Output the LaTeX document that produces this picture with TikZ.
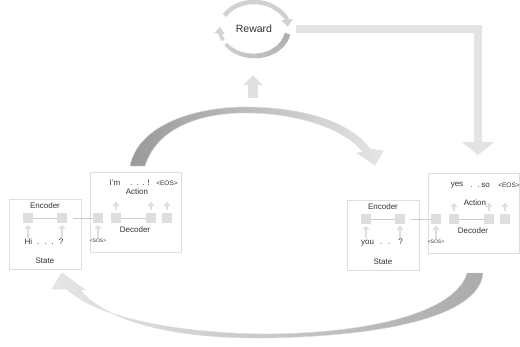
\documentclass[tikz,border=0pt]{standalone}
\usepackage{fontspec}
\setmainfont{Liberation Sans}
\usetikzlibrary{arrows.meta,shapes.geometric,calc}

\tikzset{
  statebox/.style={draw=gray!26, line width=1pt, minimum width=72pt, minimum height=70pt, inner sep=0pt},
  actbox/.style={draw=gray!26, line width=1pt, minimum width=91pt, minimum height=80pt, inner sep=0pt},
  cell/.style={fill=gray!26, minimum size=10pt, inner sep=0pt},
  lbl/.style={font=\fontsize{8}{9}\selectfont, text=black!80, inner sep=0pt},
  tok/.style={font=\fontsize{5}{6}\selectfont, text=black!80, inner sep=0pt},
  eos/.style={font=\fontsize{6.5}{7}\selectfont, text=black!80, inner sep=0pt},
  link/.style={draw=gray!40, line width=0.8pt},
  uparrow/.style={draw=gray!26, line width=2.5pt, -{Triangle[width=7pt,length=4pt]}},
}

\begin{document}
\begin{tikzpicture}[x=1pt,y=-1pt]
	\path[use as bounding box, fill=white] (0,0) rectangle (520,346);

	% reward loop
	\coordinate (rc) at (254,29);
	\node[ellipse, minimum width=68pt, minimum height=54pt, inner sep=0pt, font=\fontsize{10.5}{12}\selectfont, text=black!80] (reward) at (rc) {Reward};
	\draw[line width=4.5pt, gray!36, -{Triangle[width=11pt,length=7pt]}] (rc) ++(-150:34 and 27) arc[start angle=-150, end angle=-5, x radius=34, y radius=27];
	\foreach \a [evaluate=\a as \g using 64-\a/5, evaluate=\a as \w using 6-\a/60] in {10,25,...,140} {
		\draw[line width=\w pt, gray!\g] (rc) ++(\a:34 and 27) arc[start angle=\a, end angle=\a+16, x radius=34, y radius=27];
	}
	\draw[line width=3.5pt, gray!34, -{Triangle[width=10pt,length=7pt]}] (rc) ++(155:34 and 27) arc[start angle=155, end angle=185, x radius=34, y radius=27];

	% reward into the next turn, and from the action up to the reward
	\draw[line width=8pt, gray!22, line join=miter, shorten >=18pt, -{Triangle[width=32pt,length=13pt]}] ([xshift=8pt]reward.east) -| (478,173);
	\coordinate (up-foot) at (253,98);
	\draw[line width=10pt, gray!24, shorten >=19pt, -{Triangle[width=19pt,length=10pt]}] (up-foot) -- (reward.south -| up-foot);

	% the two dialogue turns
	\foreach \p/\dx/\dy/\words/\acty in {l/0/0/{Hi\hspace{5pt}.\hspace{5pt}.\hspace{5pt}.\hspace{5pt}?}/192, r/338/1/{you\hspace{6pt}.\hspace{6pt}.\hspace{8pt}?}/202} {
		\begin{scope}[shift={(\dx,\dy)}]
			% encoder side
			\node[statebox] (\p-state) at (45,234) {};
			\node[lbl] (\p-enc) at (45,206) {Encoder};
			\node[cell] (\p-enc1) at (28,218) {};
			\node[cell] (\p-enc2) at (62,218) {};
			\node[lbl] (\p-in) at (44,242) {\words};
			\node[lbl] (\p-st) at (45,261) {State};
			% decoder side
			\node[actbox] (\p-act) at (135.5,212) {};
			\node[lbl] (\p-actlbl) at (137,\acty) {Action};
			\node[lbl] (\p-dec) at (135,230) {Decoder};
			\foreach \i/\x in {1/98,2/116,3/151,4/167} {
				\node[cell] (\p-dec\i) at (\x,218) {};
			}
			\node[tok] (\p-sos) at (98,241) {<SOS>};

			\draw[link] (\p-enc1) -- (\p-enc2);
			\draw[link, shorten <=6pt] (\p-enc2) -- (\p-dec1);
			\draw[link] (\p-dec2) -- (\p-dec3);
			\draw[uparrow, shorten <=1pt, shorten >=1.5pt] (\p-enc1 |- \p-in.north) -- (\p-enc1.south);
			\draw[uparrow, shorten <=1pt, shorten >=1.5pt] (\p-enc2 |- \p-in.north) -- (\p-enc2.south);
			\draw[uparrow, shorten <=1pt, shorten >=1.5pt] (\p-sos.north) -- (\p-dec1.south);
			\foreach \i in {2,3,4} {
				\draw[uparrow] ([yshift=3pt]\p-dec\i.north) -- ++(0,-8);
			}
		\end{scope}
	}

	% decoder outputs
	\node[lbl] (l-o1) at (115,183) {I'm};
	\node[lbl] (l-o2) at (140,183) {.\hspace{4pt}.\hspace{4pt}.\hspace{3pt}!};
	\node[eos] (l-o3) at (167,183) {<EOS>};
	\node[lbl] (r-o1) at (457,185) {yes};
	\node[lbl] (r-o2) at (480,185) {.\hspace{5pt}.\hspace{1.5pt}so};
	\node[eos] (r-o3) at (509,185) {<EOS>};

	% action carried over to the next state
	\draw[draw=gray!28, line width=0.4pt, left color=gray!80, middle color=gray!42, right color=gray!20]
		(130,166) .. controls (138,125) and (195,106) .. (250,107)
		.. controls (305,108) and (350,122) .. (370,149)
		-- (383,151) -- (375,165) -- (357,153) -- (363,152)
		.. controls (345,129) and (300,114) .. (250,113)
		.. controls (200,112) and (157,128) .. (145,166) -- cycle;
	\draw[draw=gray!28, line width=0.4pt, left color=gray!20, middle color=gray!28, right color=gray!66]
		(483,273) .. controls (480,312) and (400,336) .. (265,338)
		.. controls (170,339) and (105,320) .. (80,290)
		-- (85,290) -- (62,273) -- (52,289) -- (67,289)
		.. controls (95,316) and (170,333) .. (265,334)
		.. controls (390,333) and (458,306) .. (467,273) -- cycle;
\end{tikzpicture}
\end{document}
